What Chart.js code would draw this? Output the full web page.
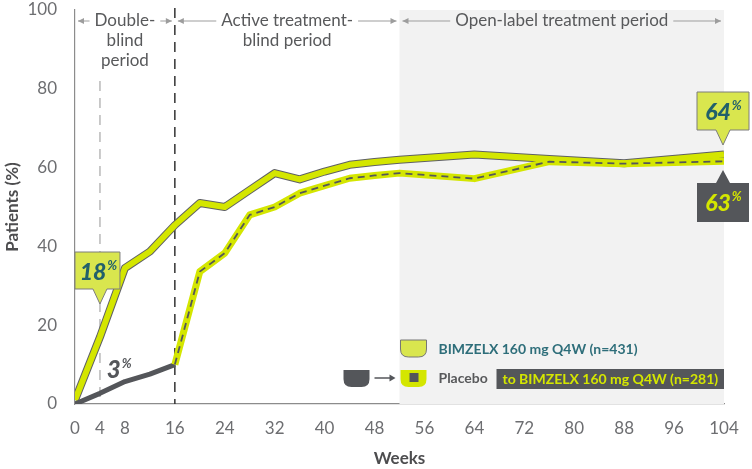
<!DOCTYPE html>
<html>
<head>
<meta charset="utf-8">
<script src="https://cdn.jsdelivr.net/npm/chart.js@4.4.1/dist/chart.umd.min.js"></script>
<style>
  body { margin: 0; background: #fff; }
  #wrap { width: 752px; height: 469px; }
</style>
</head>
<body>
<div id="wrap"><canvas id="lineChart" width="752" height="469"></canvas></div>
<script>
// weeks and response rates (%)
var bimWeeks = [0, 4, 8, 12, 16, 20, 24, 28, 32, 36, 40, 44, 48, 52, 64, 76, 88, 104];
var bimValues = [1, 17, 34.5, 38.7, 45.4, 51, 50, 54.3, 58.6, 57, 59, 60.7, 61.4, 62, 63.3, 62.2, 61.1, 63.3];

var placeboWeeks = [0, 4, 8, 12, 16];
var placeboValues = [0, 2.7, 5.7, 7.6, 10];

var switchWeeks = [16, 20, 24, 28, 32, 36, 40, 44, 48, 52, 64, 76, 88, 104];
var switchValues = [10, 33.6, 38.3, 48, 50, 53.5, 55.4, 57.3, 58, 58.6, 57.2, 61.5, 61, 61.6];

var xTicks = [0, 4, 8, 16, 24, 32, 40, 48, 56, 64, 72, 80, 88, 96, 104];
var yTicks = [0, 20, 40, 60, 80, 100];

var periods = [
  { from: 0, to: 16, lines: ["Double-", "blind", "period"] },
  { from: 16, to: 52, lines: ["Active treatment-", "blind period"] },
  { from: 52, to: 104, lines: ["Open-label treatment period"] }
];

var LIME = "#d4e600";
var LIME_SOFT = "#d9e64e";
var DARK = "#54565a";
var TEAL = "#22606b";
var FONT = "Lato, 'Open Sans', sans-serif";

function pts(xs, ys) {
  return xs.map(function (x, i) { return { x: x, y: ys[i] }; });
}

function bowl(ctx, x, y, w, h, r) {
  ctx.beginPath();
  ctx.moveTo(x, y);
  ctx.lineTo(x + w, y);
  ctx.lineTo(x + w, y + h - r);
  ctx.quadraticCurveTo(x + w, y + h, x + w - r, y + h);
  ctx.lineTo(x + r, y + h);
  ctx.quadraticCurveTo(x, y + h, x, y + h - r);
  ctx.closePath();
}

function pctText(ctx, num, x, y, color, big) {
  ctx.fillStyle = color;
  ctx.textBaseline = "alphabetic";
  ctx.textAlign = "left";
  ctx.font = "italic 900 " + big + "px " + FONT;
  var w = ctx.measureText(num).width;
  ctx.font = "italic 700 " + Math.round(big * 0.55) + "px " + FONT;
  var sw = ctx.measureText("%").width;
  var start = x - (w + sw) / 2;
  ctx.font = "italic 900 " + big + "px " + FONT;
  ctx.fillText(num, start, y);
  ctx.font = "italic 700 " + Math.round(big * 0.55) + "px " + FONT;
  ctx.fillText("%", start + w + 1, y - big * 0.42);
}

var decor = {
  id: "decor",
  beforeDatasetsDraw: function (chart) {
    var ctx = chart.ctx, a = chart.chartArea;
    var xs = chart.scales.x, ys = chart.scales.y;
    ctx.save();
    // open-label shading
    ctx.fillStyle = "#f2f2f2";
    ctx.fillRect(xs.getPixelForValue(52), a.top, xs.getPixelForValue(104) - xs.getPixelForValue(52), a.bottom - a.top);
    // week 4 and week 16 markers
    ctx.setLineDash([10, 7]);
    ctx.lineWidth = 1.5;
    ctx.strokeStyle = "#b9b9b9";
    ctx.beginPath();
    ctx.moveTo(xs.getPixelForValue(4), ys.getPixelForValue(82));
    ctx.lineTo(xs.getPixelForValue(4), a.bottom);
    ctx.stroke();
    ctx.strokeStyle = "#333";
    ctx.beginPath();
    ctx.moveTo(xs.getPixelForValue(16), a.top - 2);
    ctx.lineTo(xs.getPixelForValue(16), a.bottom);
    ctx.stroke();
    ctx.setLineDash([]);

    // period headers with arrows
    var ay = a.top + 11;
    ctx.font = "17px " + FONT;
    ctx.textAlign = "center";
    ctx.textBaseline = "middle";
    periods.forEach(function (p) {
      var l = xs.getPixelForValue(p.from) + 3;
      var r = xs.getPixelForValue(p.to) - 3;
      var mid = (l + r) / 2;
      var tw = ctx.measureText(p.lines[0]).width;
      ctx.strokeStyle = "#9d9d9d";
      ctx.fillStyle = "#9d9d9d";
      ctx.lineWidth = 1;
      ctx.beginPath();
      ctx.moveTo(l, ay); ctx.lineTo(mid - tw / 2 - 5, ay);
      ctx.moveTo(mid + tw / 2 + 5, ay); ctx.lineTo(r, ay);
      ctx.stroke();
      ctx.beginPath();
      ctx.moveTo(l, ay); ctx.lineTo(l + 6, ay - 3); ctx.lineTo(l + 6, ay + 3); ctx.closePath();
      ctx.moveTo(r, ay); ctx.lineTo(r - 6, ay - 3); ctx.lineTo(r - 6, ay + 3); ctx.closePath();
      ctx.fill();
      ctx.fillStyle = "#58595b";
      p.lines.forEach(function (t, i) {
        ctx.fillText(t, mid, ay + i * 20);
      });
    });
    ctx.restore();
  },
  afterDraw: function (chart) {
    var ctx = chart.ctx;
    var xs = chart.scales.x;
    ctx.save();

    // 18% callout
    var cx = xs.getPixelForValue(4);
    ctx.beginPath();
    ctx.moveTo(cx - 25, 252); ctx.lineTo(cx + 20, 252); ctx.lineTo(cx + 20, 289);
    ctx.lineTo(cx + 7, 289); ctx.lineTo(cx, 304); ctx.lineTo(cx - 7, 289);
    ctx.lineTo(cx - 25, 289); ctx.closePath();
    ctx.fillStyle = LIME_SOFT; ctx.fill();
    ctx.strokeStyle = "#7d7d7d"; ctx.lineWidth = 1; ctx.stroke();
    pctText(ctx, "18", cx - 2, 280, TEAL, 23);

    // 3% label
    pctText(ctx, "3", xs.getPixelForValue(7), 378, DARK, 24);

    // 64% / 63% callouts at week 104
    var ex = xs.getPixelForValue(104) - 1;
    ctx.beginPath();
    ctx.moveTo(ex - 26, 92); ctx.lineTo(ex + 26, 92); ctx.lineTo(ex + 26, 130);
    ctx.lineTo(ex + 7, 130); ctx.lineTo(ex, 145); ctx.lineTo(ex - 7, 130);
    ctx.lineTo(ex - 26, 130); ctx.closePath();
    ctx.fillStyle = LIME_SOFT; ctx.fill();
    ctx.strokeStyle = "#7d7d7d"; ctx.stroke();
    pctText(ctx, "64", ex, 120, TEAL, 23);

    ctx.beginPath();
    ctx.moveTo(ex, 170); ctx.lineTo(ex + 7, 183); ctx.lineTo(ex + 26, 183);
    ctx.lineTo(ex + 26, 222); ctx.lineTo(ex - 26, 222); ctx.lineTo(ex - 26, 183);
    ctx.lineTo(ex - 7, 183); ctx.closePath();
    ctx.fillStyle = DARK; ctx.fill();
    pctText(ctx, "63", ex, 211, LIME, 23);

    // legend
    var lx = xs.getPixelForValue(52) + 1;
    bowl(ctx, lx, 340, 26, 17, 8);
    ctx.fillStyle = LIME_SOFT; ctx.fill();
    ctx.strokeStyle = "#777"; ctx.lineWidth = 1; ctx.stroke();
    ctx.font = "bold 14px " + FONT;
    ctx.textBaseline = "middle";
    ctx.textAlign = "left";
    ctx.fillStyle = "#2e6e7a";
    ctx.fillText("BIMZELX 160 mg Q4W (n=431)", lx + 38, 349);

    bowl(ctx, lx - 57, 370, 26, 17, 8);
    ctx.fillStyle = DARK; ctx.fill();
    ctx.strokeStyle = DARK; ctx.lineWidth = 1.5;
    ctx.beginPath(); ctx.moveTo(lx - 26, 378); ctx.lineTo(lx - 10, 378); ctx.stroke();
    ctx.beginPath(); ctx.moveTo(lx - 5, 378); ctx.lineTo(lx - 11, 374.5); ctx.lineTo(lx - 11, 381.5); ctx.closePath();
    ctx.fillStyle = DARK; ctx.fill();
    bowl(ctx, lx, 370, 26, 17, 8);
    ctx.fillStyle = LIME; ctx.fill();
    ctx.fillStyle = DARK;
    ctx.fillRect(lx + 9, 373, 9, 9);
    ctx.fillStyle = "#58595b";
    ctx.fillText("Placebo", lx + 38, 378);
    var bx = lx + 96;
    ctx.fillStyle = DARK;
    ctx.fillRect(bx, 369, xs.getPixelForValue(104) - bx, 20);
    ctx.fillStyle = LIME;
    ctx.fillText("to BIMZELX 160 mg Q4W (n=281)", bx + 6, 379);

    ctx.restore();
  }
};

var ctx = document.getElementById("lineChart").getContext("2d");
var myChart = new Chart(ctx, {
  type: "line",
  data: {
    datasets: [
      {
        label: "Placebo to BIMZELX dashes",
        data: pts(switchWeeks, switchValues),
        borderColor: DARK,
        borderWidth: 1.8,
        borderDash: [7, 5],
        order: 0
      },
      {
        label: "Placebo to BIMZELX 160 mg Q4W (n=281)",
        data: pts(switchWeeks, switchValues),
        borderColor: LIME,
        borderWidth: 7,
        order: 1
      },
      {
        label: "Placebo",
        data: pts(placeboWeeks, placeboValues),
        borderColor: DARK,
        borderWidth: 5,
        order: 2
      },
      {
        label: "BIMZELX 160 mg Q4W (n=431)",
        data: pts(bimWeeks, bimValues),
        borderColor: LIME,
        borderWidth: 6,
        order: 3
      },
      {
        label: "BIMZELX outline",
        data: pts(bimWeeks, bimValues),
        borderColor: "#5f6064",
        borderWidth: 8,
        order: 4
      }
    ]
  },
  options: {
    responsive: false,
    animation: false,
    devicePixelRatio: 1,
    layout: { padding: { top: 10, right: 28, left: 0, bottom: 0 } },
    elements: {
      point: { radius: 0 },
      line: { tension: 0, borderJoinStyle: "round", borderCapStyle: "butt", fill: false }
    },
    plugins: { legend: { display: false }, tooltip: { enabled: false } },
    scales: {
      x: {
        type: "linear",
        min: 0,
        max: 104,
        afterBuildTicks: function (scale) {
          scale.ticks = xTicks.map(function (v) { return { value: v }; });
        },
        afterFit: function (scale) {
          scale.height = 65;
          scale.paddingLeft = 0;
          scale.paddingRight = 0;
        },
        grid: { display: false, drawTicks: false },
        border: { display: true, color: "#8c8c8c", width: 1.2 },
        ticks: { autoSkip: false, maxRotation: 0, padding: 14, color: "#6d6e71", font: { family: FONT, size: 17 } },
        title: { display: true, text: "Weeks", color: "#4d4d4f", font: { family: FONT, size: 17, weight: "bold" }, padding: 0 }
      },
      y: {
        min: 0,
        max: 100,
        afterBuildTicks: function (scale) {
          scale.ticks = yTicks.map(function (v) { return { value: v }; });
        },
        afterFit: function (scale) {
          scale.width = 75;
          scale.paddingTop = 0;
          scale.paddingBottom = 0;
        },
        grid: { display: false, drawTicks: false },
        border: { display: true, color: "#8c8c8c", width: 1.2 },
        ticks: { padding: 18, color: "#6d6e71", font: { family: FONT, size: 17 } },
        title: { display: true, text: "Patients (%)", color: "#4d4d4f", font: { family: FONT, size: 17, weight: "bold" }, padding: 2 }
      }
    }
  },
  plugins: [decor]
});
</script>
</body>
</html>
